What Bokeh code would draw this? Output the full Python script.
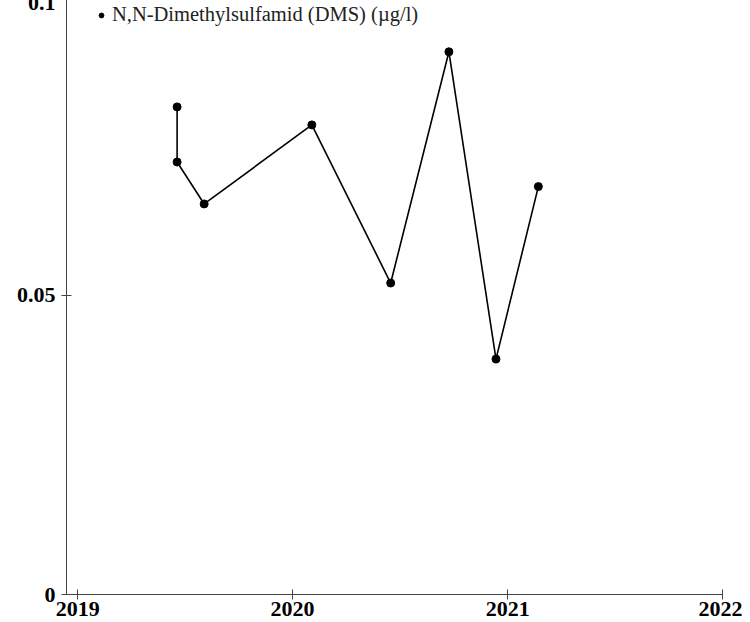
import pandas as pd
from bokeh.plotting import figure
from bokeh.models import FixedTicker, DatetimeTickFormatter, Legend, LegendItem, Range1d
from bokeh.embed import file_html
from bokeh.resources import INLINE

# ---- data ----
dates = ["2019-06-19", "2019-06-19", "2019-08-04", "2020-02-03",
         "2020-06-16", "2020-09-23", "2020-12-12", "2021-02-22"]
values = [0.0814, 0.0722, 0.0652, 0.0784, 0.0520, 0.0906, 0.0393, 0.0681]
year_ticks = [2019, 2020, 2021, 2022]
y_ticks = [0, 0.05, 0.1]
y_tick_labels = ["0", "0.05", "0.1"]
series_name = "N,N-Dimethylsulfamid (DMS) (µg/l)"

x = pd.to_datetime(dates)
x_start = pd.Timestamp("2018-12-13")
x_end = pd.Timestamp("2022-01-01")

# the reference's top tick label (0.1) sits right at the top edge and is cut;
# a small negative top margin reproduces that
p = figure(width=742, height=627, x_axis_type="datetime",
           output_backend="svg", toolbar_location=None,
           x_range=Range1d(x_start, x_end),
           y_range=Range1d(y_ticks[0], y_ticks[-1]),
           min_border_left=66, min_border_right=20,
           min_border_top=0, min_border_bottom=28,
           margin=(-5, 0, 0, 0))

p.outline_line_color = None
p.xgrid.visible = False
p.ygrid.visible = False
p.background_fill_color = "white"

p.line(x, values, line_color="black", line_width=1.6)
r = p.scatter(x, values, size=8, fill_color="black", line_color="black")

# axes
tick_font = "Liberation Serif"
for ax in (p.xaxis[0], p.yaxis[0]):
    ax.axis_line_color = "#444444"
    ax.major_tick_line_color = "#444444"
    ax.major_tick_in = 5
    ax.major_tick_out = 5
    ax.minor_tick_line_color = None
    ax.major_label_text_font = tick_font
    ax.major_label_text_font_size = "22px"
    ax.major_label_text_font_style = "bold"
    ax.major_label_text_color = "black"

p.xaxis[0].ticker = FixedTicker(
    ticks=[pd.Timestamp(f"{y}-01-01").timestamp() * 1000 for y in year_ticks])
p.xaxis[0].formatter = DatetimeTickFormatter(
    years="%Y", months="%Y", days="%Y", hours="%Y", hourmin="%Y",
    minutes="%Y", minsec="%Y", seconds="%Y", milliseconds="%Y", microseconds="%Y")
p.xaxis[0].major_label_standoff = 2

p.yaxis[0].ticker = FixedTicker(ticks=y_ticks)
p.yaxis[0].major_label_overrides = {t: l for t, l in zip(y_ticks, y_tick_labels)}
p.yaxis[0].major_label_standoff = 6

legend = Legend(items=[LegendItem(label=series_name, renderers=[r])],
                location=(29, 568), padding=0, margin=0, spacing=0,
                border_line_color=None, background_fill_alpha=0,
                glyph_width=12, label_standoff=5,
                label_text_font="Liberation Serif", label_text_font_size="20.5px",
                label_text_color="#222222")
p.add_layout(legend)

open("out.html", "w").write(file_html(p, INLINE))
